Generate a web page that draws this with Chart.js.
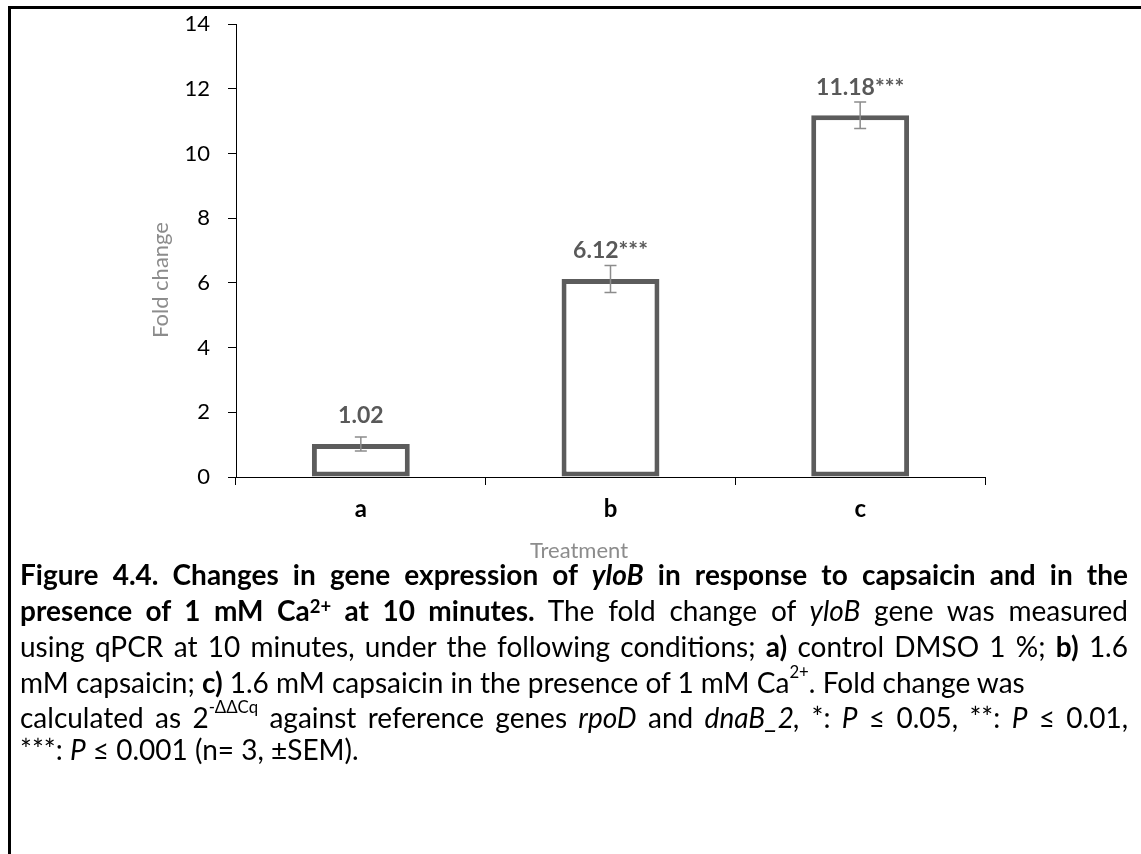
<!DOCTYPE html>
<html>
<head>
<meta charset="utf-8">
<title>yloB fold change</title>
<script src="https://cdn.jsdelivr.net/npm/chart.js@4.4.0/dist/chart.umd.min.js"></script>
<style>
    body { margin: 0; background: #fff; width: 1141px; height: 854px; overflow: hidden; position: relative; font-family: Lato, sans-serif; }
    #frame { position: absolute; left: 8px; top: 6px; width: 1200px; height: 900px; border-left: 3px solid #000; border-top: 3px solid #000; }
    #grafico { position: absolute; left: 0; top: 0; }
    .cap { position: absolute; left: 20px; width: 1108px; font-size: 28px; line-height: 30px; color: #000; white-space: nowrap; }
    .just { text-align: justify; text-align-last: justify; }
    sup { line-height: 0; }
    sup.hi { font-size: 0.6em; vertical-align: 0.9em; }
    sup.lo { font-size: 0.66em; vertical-align: 0.45em; }
</style>
</head>
<body>
<div id="frame"></div>
<canvas id="grafico" width="1141" height="565"></canvas>

<div class="cap just" style="top:559px"><b>Figure 4.4. Changes in gene expression of <i>yloB</i> in response to capsaicin and in the</b></div>
<div class="cap just" style="top:595px"><b>presence of 1 mM Ca<sup class="lo">2+</sup> at 10 minutes.</b> The fold change of <i>yloB</i> gene was measured</div>
<div class="cap just" style="top:631px">using qPCR at 10 minutes, under the following conditions; <b>a)</b> control DMSO 1 %; <b>b)</b> 1.6</div>
<div class="cap" style="top:667px">mM capsaicin; <b>c)</b> 1.6 mM capsaicin in the presence of 1 mM Ca<sup class="hi">2+</sup>. Fold change was</div>
<div class="cap just" style="top:702px">calculated as 2<sup class="hi">-ΔΔCq</sup> against reference genes <i>rpoD</i> and <i>dnaB_2,</i> *: <i>P</i> ≤ 0.05, **: <i>P</i> ≤ 0.01,</div>
<div class="cap" style="top:734px">***: <i>P</i> ≤ 0.001 (n= 3, ±SEM).</div>

<script>
const treatments = ["a", "b", "c"];
const foldChange = [1.02, 6.12, 11.18];
const sem = [0.22, 0.42, 0.41];
const significance = ["", "***", "***"];
const yTicks = [0, 2, 4, 6, 8, 10, 12, 14];

// error bars, value labels and axis titles
const barExtras = {
    id: "barExtras",
    afterDatasetsDraw(chart) {
        const ctx = chart.ctx;
        const y = chart.scales.y;
        const area = chart.chartArea;
        const bars = chart.getDatasetMeta(0).data;

        ctx.save();
        bars.forEach((bar, i) => {
            const top = y.getPixelForValue(foldChange[i] + sem[i]);
            const bottom = y.getPixelForValue(foldChange[i] - sem[i]);
            ctx.strokeStyle = "#8c8c8c";
            ctx.lineWidth = 1.5;
            ctx.beginPath();
            ctx.moveTo(bar.x, top);
            ctx.lineTo(bar.x, bottom);
            ctx.moveTo(bar.x - 6, top);
            ctx.lineTo(bar.x + 6, top);
            ctx.moveTo(bar.x - 6, bottom);
            ctx.lineTo(bar.x + 6, bottom);
            ctx.stroke();

            ctx.fillStyle = "#595959";
            ctx.font = "bold 23px Lato";
            ctx.textAlign = "center";
            ctx.textBaseline = "middle";
            ctx.fillText(foldChange[i].toFixed(2) + significance[i], bar.x, y.getPixelForValue(foldChange[i]) - 28);
        });

        ctx.fillStyle = "#8c8c8c";
        ctx.font = "22px Lato";
        ctx.textAlign = "center";
        ctx.textBaseline = "middle";
        ctx.fillText("Treatment", area.left + 343, area.bottom + 74);

        ctx.translate(y.left + 16, area.top + 256);
        ctx.rotate(-Math.PI / 2);
        ctx.fillText("Fold change", 0, 0);
        ctx.restore();
    }
};

new Chart(document.getElementById("grafico"), {
    type: "bar",
    data: {
        labels: treatments,
        datasets: [{
            data: foldChange,
            backgroundColor: "#ffffff",
            borderColor: "#5c5c5c",
            borderWidth: 5,
            borderSkipped: false,
            categoryPercentage: 1,
            barPercentage: 0.392
        }]
    },
    options: {
        responsive: false,
        animation: false,
        layout: { padding: { left: 145, right: 156, top: 24, bottom: 0 } },
        plugins: {
            legend: { display: false },
            tooltip: { enabled: false }
        },
        scales: {
            x: {
                afterFit: (scale) => { scale.height = 88; },
                grid: { drawOnChartArea: false, tickLength: 8, color: "#000" },
                border: { display: true, color: "#000", width: 1 },
                ticks: { color: "#000", padding: 10, font: { family: "Lato", size: 24, weight: "bold" } }
            },
            y: {
                min: 0,
                max: 14,
                afterFit: (scale) => {
                    scale.width = 91;
                    scale.paddingTop = 0;
                    scale.paddingBottom = 0;
                },
                afterBuildTicks: (scale) => { scale.ticks = yTicks.map(v => ({ value: v })); },
                grid: { drawOnChartArea: false, tickLength: 8, color: "#000" },
                border: { display: true, color: "#000", width: 1 },
                ticks: { color: "#000", padding: 18, font: { family: "Lato", size: 22 } }
            }
        }
    },
    plugins: [barExtras]
});
</script>
</body>
</html>
